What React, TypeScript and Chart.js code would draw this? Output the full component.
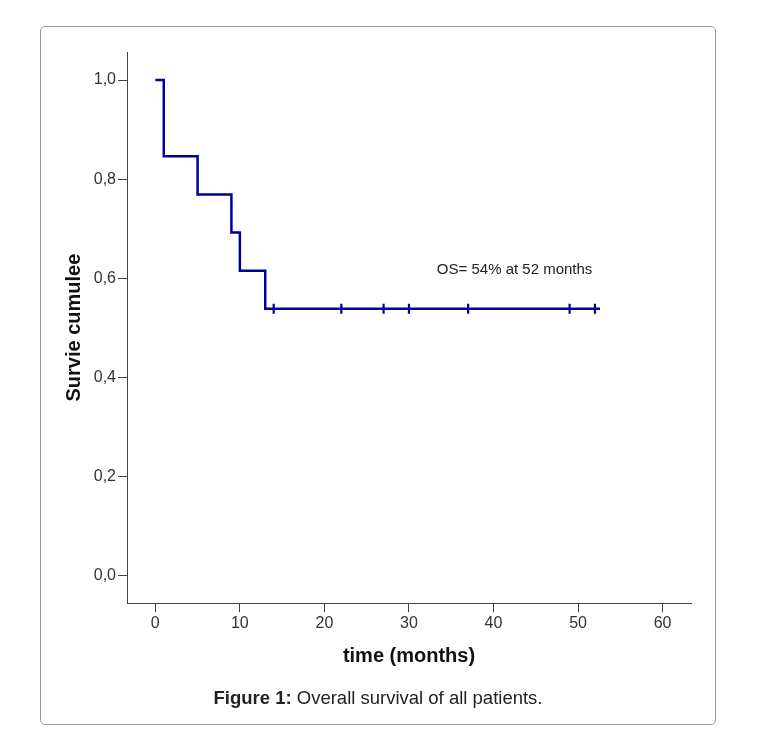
import React, { useEffect, useRef } from "react";
import { Chart, registerables } from "chart.js";

Chart.register(...registerables);

// ---- data ----
const eventTimes = [0, 1, 5, 9, 10, 13, 52.6];
const survival = [1, 11 / 13, 10 / 13, 9 / 13, 8 / 13, 7 / 13, 7 / 13];
const censorTimes = [14, 22, 27, 30, 37, 49, 52];
const censorSurvival = [7 / 13, 7 / 13, 7 / 13, 7 / 13, 7 / 13, 7 / 13, 7 / 13];
const xTickValues = [0, 10, 20, 30, 40, 50, 60];
const yTickValues = [0, 0.2, 0.4, 0.6, 0.8, 1.0];
const annotationText = "OS= 54% at 52 months";
const annotationPos = { x: 33.3, y: 0.617 };

const FONT = "'Liberation Sans', Arial, sans-serif";
const LINE_COLOR = "#00009a";
const AXIS_COLOR = "#444";

const annotationPlugin = {
  id: "osAnnotation",
  afterDatasetsDraw(chart: any) {
    const { ctx, scales } = chart;
    const x = scales.x.getPixelForValue(annotationPos.x);
    const y = scales.y.getPixelForValue(annotationPos.y);
    ctx.save();
    ctx.font = `15px ${FONT}`;
    ctx.fillStyle = "#222";
    ctx.textAlign = "left";
    ctx.textBaseline = "middle";
    ctx.fillText(annotationText, x, y);
    ctx.restore();
  },
};

export default function App() {
  const canvasRef = useRef<HTMLCanvasElement | null>(null);

  useEffect(() => {
    if (!canvasRef.current) return;
    const chart = new Chart(canvasRef.current, {
      type: "line",
      data: {
        datasets: [
          {
            label: "survival",
            data: eventTimes.map((t, i) => ({ x: t, y: survival[i] })),
            stepped: "before",
            borderColor: LINE_COLOR,
            borderWidth: 2.5,
            pointRadius: 0,
            fill: false,
          },
          {
            label: "censored",
            data: censorTimes.map((t, i) => ({ x: t, y: censorSurvival[i] })),
            showLine: false,
            pointStyle: "line",
            rotation: 90,
            pointRadius: 5,
            pointBorderWidth: 2.2,
            pointBorderColor: LINE_COLOR,
            borderColor: LINE_COLOR,
            pointHoverRadius: 5,
          },
        ],
      },
      options: {
        animation: false,
        responsive: true,
        maintainAspectRatio: false,
        layout: { padding: { left: 0, top: 26, right: 25, bottom: 50 } },
        plugins: {
          legend: { display: false },
          tooltip: { enabled: false },
        },
        scales: {
          x: {
            type: "linear",
            min: -3.35,
            max: 63.36,
            afterBuildTicks: (scale: any) => {
              scale.ticks = xTickValues.map((v) => ({ value: v }));
            },
            afterFit: (scale: any) => {
              scale.height = 71.7;
            },
            ticks: {
              color: "#333",
              font: { family: FONT, size: 16 },
              padding: 2,
              maxRotation: 0,
              callback: (v: any) => String(v),
            },
            grid: {
              display: true,
              drawOnChartArea: false,
              drawTicks: true,
              tickLength: 9,
              color: AXIS_COLOR,
              lineWidth: 1,
            },
            border: { display: true, color: AXIS_COLOR, width: 1 },
            title: {
              display: true,
              text: "time (months)",
              color: "#111",
              font: { family: FONT, size: 20, weight: "bold" },
              padding: { top: 0, bottom: 7 },
            },
          },
          y: {
            type: "linear",
            min: -0.0557,
            max: 1.0565,
            afterBuildTicks: (scale: any) => {
              scale.ticks = yTickValues.map((v) => ({ value: v }));
            },
            afterFit: (scale: any) => {
              scale.width = 87;
            },
            ticks: {
              color: "#333",
              font: { family: FONT, size: 16 },
              padding: 2,
              callback: (v: any) => Number(v).toFixed(1).replace(".", ","),
            },
            grid: {
              display: true,
              drawOnChartArea: false,
              drawTicks: true,
              tickLength: 9,
              color: AXIS_COLOR,
              lineWidth: 1,
            },
            border: { display: true, color: AXIS_COLOR, width: 1 },
            title: {
              display: true,
              text: "Survie cumulee",
              color: "#111",
              font: { family: FONT, size: 20, weight: "bold" },
              padding: { top: 22, bottom: 0 },
            },
          },
        },
      },
      plugins: [annotationPlugin],
    } as any);
    return () => chart.destroy();
  }, []);

  return (
    <div>
      <div
        style={{
          position: "absolute",
          left: 40,
          top: 26,
          width: 676,
          height: 699,
          boxSizing: "border-box",
          border: "1px solid #999",
          borderRadius: 5,
        }}
      />
      <div
        style={{
          position: "absolute",
          left: 40,
          top: 26,
          width: 676,
          height: 699,
        }}
      >
        <canvas ref={canvasRef} />
      </div>
      <div
        style={{
          position: "absolute",
          left: 40,
          top: 687,
          width: 676,
          textAlign: "center",
          fontFamily: FONT,
          fontSize: 18.5,
          lineHeight: "22px",
          color: "#222",
        }}
      >
        <b>Figure 1:</b> Overall survival of all patients.
      </div>
    </div>
  );
}
